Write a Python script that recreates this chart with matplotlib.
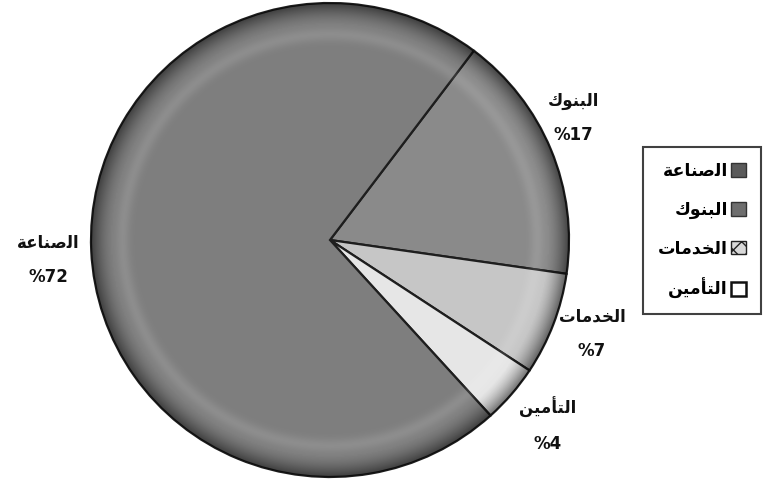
import matplotlib
matplotlib.use("Agg")
import matplotlib.pyplot as plt
from matplotlib.patches import Patch, Circle
import numpy as np

# Arabic words written in presentation forms, visual (left-to-right) order,
# because matplotlib does no Arabic shaping by itself
industry = "\uFE94\uFECB\uFE8E\uFEE8\uFEBB\uFEDF\uFE8D"   # الصناعة
banks = "\uFED9\uFEEE\uFEE8\uFE92\uFEDF\uFE8D"            # البنوك
services = "\uFE95\uFE8E\uFEE3\uFEAA\uFEA8\uFEDF\uFE8D"   # الخدمات
insurance = "\uFEE6\uFEF4\uFEE3\uFE84\uFE98\uFEDF\uFE8D"  # التأمين

# data in drawing order (clockwise from the top-right boundary)
names = [banks, services, insurance, industry]
shares = [17, 7, 4, 72]
colors = ["#8a8a8a", "#c6c6c6", "#e6e6e6", "#7e7e7e"]

# legend order as in the reference
legend_names = [industry, banks, services, insurance]

plt.rcParams["font.family"] = ["DejaVu Sans"]

fig = plt.figure(figsize=(7.63, 4.83), dpi=100)
ax = fig.add_axes([91 / 763, (483 - 477) / 483, 478 / 763, 474 / 483])

labels = [f"{n}\n%{s}" for n, s in zip(names, shares)]
wedges, texts = ax.pie(
    shares,
    labels=labels,
    colors=colors,
    startangle=53,
    counterclock=False,
    labeldistance=1.17,
    wedgeprops=dict(edgecolor="#1e1e1e", linewidth=1.6),
    textprops=dict(fontsize=12, fontweight="bold", color="#111111"),
)
# label centres nudged to where the reference puts them
label_pos = [(1.02, 0.515), (1.096, -0.397), (0.912, -0.78), (-1.18, -0.084)]
for t, p in zip(texts, label_pos):
    t.set_position(p)
    t.set_horizontalalignment("center")
    t.set_verticalalignment("center")
    t.set_linespacing(2.2)

# soft 3D rim shading on the pie
n = 400
gx, gy = np.meshgrid(np.linspace(-1, 1, n), np.linspace(-1, 1, n))
r = np.sqrt(gx ** 2 + gy ** 2)
shade = np.zeros((n, n, 4))
dark = np.clip((r - 0.91) / 0.09, 0, 1) ** 1.5 * 0.5
light = np.exp(-((r - 0.87) / 0.03) ** 2) * 0.12
shade[..., :3] = np.where(dark[..., None] > light[..., None], 0.0, 1.0)
shade[..., 3] = np.maximum(dark, light)
img = ax.imshow(shade, extent=(-1, 1, -1, 1), origin="lower", zorder=3, interpolation="bilinear")
img.set_clip_path(Circle((0, 0), 1.0, transform=ax.transData))

ax.set_aspect("auto")
ax.set_xlim(-1.0, 1.0)
ax.set_ylim(-1.0, 1.0)

handles = [
    Patch(facecolor="#5a5a5a", edgecolor="#333333"),
    Patch(facecolor="#6e6e6e", edgecolor="#333333"),
    Patch(facecolor="#d8d8d8", edgecolor="#222222", hatch="xx"),
    Patch(facecolor="white", edgecolor="#111111", linewidth=1.8),
]
leg = fig.legend(
    handles,
    legend_names,
    loc="upper right",
    bbox_to_anchor=(761 / 763, 1 - 147 / 483),
    markerfirst=False,
    frameon=True,
    fancybox=False,
    prop=dict(weight="bold", size=12.5),
    labelspacing=1.2,
    handlelength=0.85,
    handleheight=0.85,
    handletextpad=0.2,
    borderpad=0.85,
    borderaxespad=0,
)
leg.get_frame().set_edgecolor("#111111")
leg.get_frame().set_linewidth(1.5)

fig.savefig("out.png", dpi=100, facecolor="white")
